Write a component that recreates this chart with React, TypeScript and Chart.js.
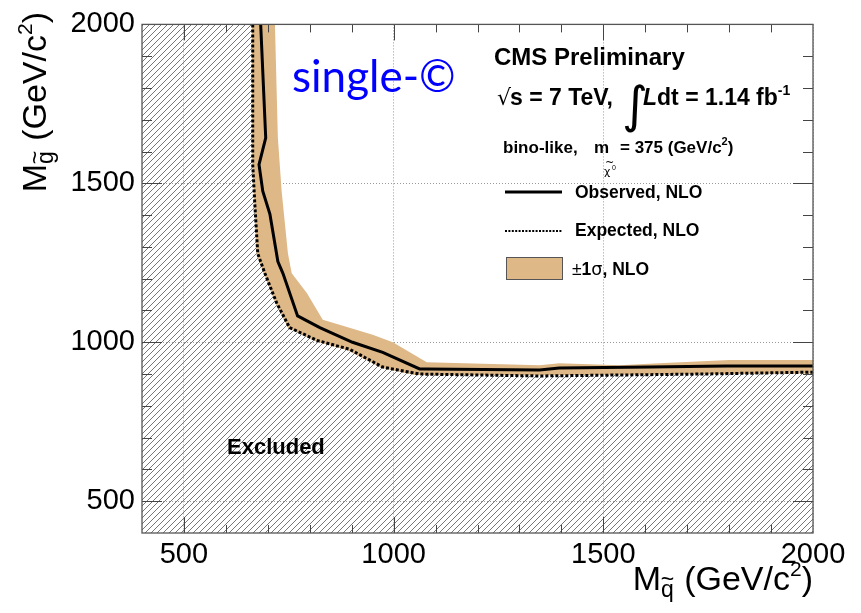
import React, { useEffect, useRef } from "react";
import { Chart, registerables } from "chart.js";

Chart.register(...registerables);

// Axis ranges (GeV/c^2)
const axisMin = 400;
const axisMax = 2000;
const majorTicks = [500, 1000, 1500, 2000];
const minorTicks = [500, 600, 700, 800, 900, 1000, 1100, 1200, 1300, 1400, 1500, 1600, 1700, 1800, 1900];

// Observed 95% CL limit contour: squark mass vs gluino mass
const observedSquark = [683, 695, 679, 688, 705, 724, 736, 771, 824, 902, 974, 1062, 1079, 1348, 1395, 1610, 1793, 2000];
const observedGluino = [2000, 1643, 1559, 1475, 1403, 1254, 1217, 1083, 1046, 1000, 968, 916, 916, 913, 919, 922, 925, 925];

// Expected limit contour
const expectedSquark = [664, 664, 669, 676, 693, 721, 752, 817, 895, 974, 1062, 1348, 1729, 2000];
const expectedGluino = [2000, 1559, 1435, 1279, 1217, 1124, 1046, 1006, 978, 922, 900, 894, 900, 906];

// +-1 sigma band: outer edge and inner edge
const bandUpperSquark = [717, 724, 733, 748, 757, 793, 831, 871, 950, 998, 1079, 1348, 1395, 1538, 1633, 1800, 2000];
const bandUpperGluino = [2000, 1643, 1475, 1279, 1217, 1155, 1071, 1055, 1024, 1000, 937, 928, 934, 928, 934, 944, 944];
const bandLowerSquark = [662, 663, 668, 673, 690, 718, 748, 812, 890, 970, 1050, 1348, 2000];
const bandLowerGluino = [2000, 1559, 1435, 1279, 1217, 1124, 1046, 1004, 975, 920, 897, 896, 902];

const BAND_COLOR = "#DEB887";
const SANS = "'Liberation Sans', Arial, Helvetica, sans-serif";

type Run = {
  text: string;
  size: number;
  bold?: boolean;
  italic?: boolean;
  dy?: number;
  family?: string;
  tilde?: boolean;
  gap?: number;
};

function fontOf(r: Run) {
  return `${r.italic ? "italic " : ""}${r.bold ? "bold " : ""}${r.size}px ${r.family || SANS}`;
}

function measureRuns(ctx: CanvasRenderingContext2D, runs: Run[]) {
  let w = 0;
  for (const r of runs) {
    ctx.font = fontOf(r);
    w += ctx.measureText(r.text).width + (r.gap || 0);
  }
  return w;
}

function drawRuns(ctx: CanvasRenderingContext2D, x: number, y: number, runs: Run[]) {
  let cx = x;
  for (const r of runs) {
    ctx.font = fontOf(r);
    const w = ctx.measureText(r.text).width;
    const by = y + (r.dy || 0);
    ctx.fillText(r.text, cx, by);
    if (r.tilde) {
      const tw = ctx.measureText("~").width;
      ctx.fillText("~", cx + w / 2 - tw / 2, by - r.size * 0.42);
    }
    cx += w + (r.gap || 0);
  }
  return cx;
}

function makeHatch(): CanvasPattern | string {
  const s = 6;
  const c = document.createElement("canvas");
  c.width = s;
  c.height = s;
  const g = c.getContext("2d");
  if (!g) return "#ccc";
  g.strokeStyle = "#4a4a4a";
  g.lineWidth = 0.75;
  g.beginPath();
  g.moveTo(0, s);
  g.lineTo(s, 0);
  g.moveTo(-1, 1);
  g.lineTo(1, -1);
  g.moveTo(s - 1, s + 1);
  g.lineTo(s + 1, s - 1);
  g.stroke();
  const p = g.createPattern(c, "repeat");
  return p || "#ccc";
}

const zip = (xs: number[], ys: number[]) => xs.map((x, i) => ({ x, y: ys[i] }));

const overlayPlugin = {
  id: "cmsOverlay",
  afterDatasetsDraw(chart: any) {
    const ctx: CanvasRenderingContext2D = chart.ctx;
    const { left, right, top, bottom } = chart.chartArea;
    const xs = chart.scales.x;
    const ys = chart.scales.y;
    ctx.save();

    // tick marks on all four sides, pointing inwards
    ctx.strokeStyle = "#444";
    ctx.lineWidth = 1;
    ctx.beginPath();
    for (const v of minorTicks) {
      const major = majorTicks.includes(v);
      const px = Math.round(xs.getPixelForValue(v)) + 0.5;
      const lx = major ? 16 : 8;
      ctx.moveTo(px, bottom);
      ctx.lineTo(px, bottom - lx);
      ctx.moveTo(px, top);
      ctx.lineTo(px, top + lx);
      const py = Math.round(ys.getPixelForValue(v)) + 0.5;
      const ly = major ? 20 : 10;
      ctx.moveTo(left, py);
      ctx.lineTo(left + ly, py);
      ctx.moveTo(right, py);
      ctx.lineTo(right - ly, py);
    }
    ctx.stroke();

    // frame
    ctx.strokeStyle = "#555";
    ctx.lineWidth = 1.3;
    ctx.strokeRect(left, top, right - left, bottom - top);

    ctx.fillStyle = "#000";
    ctx.textBaseline = "alphabetic";
    ctx.textAlign = "left";

    // header
    drawRuns(ctx, 494, 65, [{ text: "CMS Preliminary", size: 24, bold: true }]);

    // energy and luminosity
    drawRuns(ctx, 497, 105, [
      { text: "\u221A", size: 22, bold: false, family: "'DejaVu Sans', sans-serif", gap: -1 },
      { text: "s = 7 TeV,", size: 23, bold: true },
    ]);
    ctx.save();
    ctx.font = `50px 'DejaVu Sans', sans-serif`;
    ctx.fillText("\u222B", 622, 122);
    ctx.restore();
    const lx = drawRuns(ctx, 643, 105, [
      { text: "L", size: 23, bold: true, italic: true },
      { text: "dt = 1.14 fb", size: 23, bold: true },
    ]);
    drawRuns(ctx, lx, 95, [{ text: "-1", size: 14, bold: true }]);

    // model line
    drawRuns(ctx, 503, 153, [{ text: "bino-like,", size: 17, bold: true }]);
    drawRuns(ctx, 594, 153, [{ text: "m", size: 17, bold: true }]);
    ctx.save();
    ctx.font = `11px 'DejaVu Sans', sans-serif`;
    ctx.fillText("\u03C7", 604, 175);
    ctx.fillText("~", 605, 166);
    ctx.font = `7px ${SANS}`;
    ctx.fillText("0", 612, 170);
    ctx.restore();
    const mx = drawRuns(ctx, 620, 153, [{ text: "= 375 (GeV/c", size: 17, bold: true }]);
    const mx2 = drawRuns(ctx, mx, 145, [{ text: "2", size: 11, bold: true }]);
    drawRuns(ctx, mx2, 153, [{ text: ")", size: 17, bold: true }]);

    // legend
    const dsObs = chart.data.datasets[0];
    const dsExp = chart.data.datasets[1];
    ctx.strokeStyle = dsObs.borderColor;
    ctx.lineWidth = 3;
    ctx.setLineDash([]);
    ctx.beginPath();
    ctx.moveTo(505, 192);
    ctx.lineTo(562, 192);
    ctx.stroke();
    ctx.strokeStyle = dsExp.borderColor;
    ctx.lineWidth = 2.2;
    ctx.setLineDash([2, 1.4]);
    ctx.beginPath();
    ctx.moveTo(505, 231);
    ctx.lineTo(562, 231);
    ctx.stroke();
    ctx.setLineDash([]);
    ctx.fillStyle = BAND_COLOR;
    ctx.fillRect(506, 257, 57, 23);
    ctx.strokeStyle = "#555";
    ctx.lineWidth = 1;
    ctx.strokeRect(506.5, 257.5, 56, 22);
    ctx.fillStyle = "#000";
    drawRuns(ctx, 575, 198, [{ text: "Observed, NLO", size: 17.5, bold: true }]);
    drawRuns(ctx, 575, 236, [{ text: "Expected, NLO", size: 17.5, bold: true }]);
    drawRuns(ctx, 572, 275, [
      { text: "\u00B1", size: 17.5 },
      { text: "1", size: 17.5, bold: true },
      { text: "\u03C3", size: 17.5, family: "'DejaVu Sans', sans-serif" },
      { text: ", NLO", size: 17.5, bold: true },
    ]);

    // region label
    drawRuns(ctx, 227, 454, [{ text: "Excluded", size: 22, bold: true }]);

    // channel label
    ctx.fillStyle = "#0000FF";
    drawRuns(ctx, 292, 92, [{ text: "single-\u00A9", size: 44, family: "Lato, 'Open Sans', sans-serif" }]);
    ctx.fillStyle = "#000";

    // axis titles
    const title: Run[] = [
      { text: "M", size: 34 },
      { text: "q", size: 23, dy: 7, tilde: true, gap: 1 },
      { text: " (GeV/c", size: 34 },
      { text: "2", size: 21, dy: -14 },
      { text: ")", size: 34 },
    ];
    const tw = measureRuns(ctx, title);
    drawRuns(ctx, right - tw, 590, title);

    const ytitle: Run[] = [
      { text: "M", size: 34 },
      { text: "g", size: 23, dy: 7, tilde: true, gap: 1 },
      { text: " (GeV/c", size: 34 },
      { text: "2", size: 21, dy: -14 },
      { text: ")", size: 34 },
    ];
    const yw = measureRuns(ctx, ytitle);
    ctx.save();
    ctx.translate(46, 12 + yw);
    ctx.rotate(-Math.PI / 2);
    drawRuns(ctx, 0, 0, ytitle);
    ctx.restore();

    ctx.restore();
  },
};

export default function App() {
  const ref = useRef<HTMLCanvasElement | null>(null);

  useEffect(() => {
    if (!ref.current) return;
    const hatch = makeHatch();

    const observed = zip(observedSquark, observedGluino);
    const expected = zip(expectedSquark, expectedGluino);
    const band = [
      ...zip(bandUpperSquark, bandUpperGluino),
      ...zip(bandLowerSquark, bandLowerGluino).reverse(),
    ];
    const excluded = [
      ...expected,
      { x: axisMax, y: axisMin },
      { x: axisMin, y: axisMin },
      { x: axisMin, y: axisMax },
    ];

    const tickFont = { family: SANS, size: 29 };

    const chart = new Chart(ref.current, {
      type: "line",
      data: {
        datasets: [
          {
            label: "Observed, NLO",
            data: observed,
            borderColor: "#000",
            borderWidth: 3,
            pointRadius: 0,
            fill: false,
            tension: 0,
          },
          {
            label: "Expected, NLO",
            data: expected,
            borderColor: "#000",
            borderWidth: 3,
            borderDash: [3, 2],
            pointRadius: 0,
            fill: false,
            tension: 0,
          },
          {
            label: "\u00B11\u03C3, NLO",
            data: band,
            borderWidth: 0,
            borderColor: "rgba(0,0,0,0)",
            backgroundColor: BAND_COLOR,
            pointRadius: 0,
            fill: "shape",
            tension: 0,
          },
          {
            label: "Excluded",
            data: excluded,
            borderWidth: 0,
            borderColor: "rgba(0,0,0,0)",
            backgroundColor: hatch as any,
            pointRadius: 0,
            fill: "shape",
            tension: 0,
          },
        ],
      },
      options: {
        animation: false,
        responsive: false,
        maintainAspectRatio: false,
        events: [],
        layout: { padding: { left: 0, top: 18, right: 48, bottom: 0 } },
        plugins: {
          legend: { display: false },
          tooltip: { enabled: false },
          title: { display: false },
        },
        scales: {
          x: {
            type: "linear",
            min: axisMin,
            max: axisMax,
            afterBuildTicks: (s: any) => {
              s.ticks = majorTicks.map((v) => ({ value: v }));
            },
            afterFit: (s: any) => {
              s.height = 80;
            },
            grid: { color: "#999", lineWidth: 1, drawTicks: false },
            border: { display: false, dash: [1, 2] },
            ticks: {
              font: tickFont,
              color: "#000",
              padding: 5,
              maxRotation: 0,
              autoSkip: false,
              callback: (v: any) => String(v),
            },
          },
          y: {
            type: "linear",
            min: axisMin,
            max: axisMax,
            afterBuildTicks: (s: any) => {
              s.ticks = majorTicks.map((v) => ({ value: v }));
            },
            afterFit: (s: any) => {
              s.width = 142;
            },
            grid: { color: "#999", lineWidth: 1, drawTicks: false },
            border: { display: false, dash: [1, 2] },
            ticks: {
              font: tickFont,
              color: "#000",
              padding: 7,
              autoSkip: false,
              callback: (v: any) => String(v),
            },
          },
        },
      },
      plugins: [overlayPlugin],
    });

    return () => chart.destroy();
  }, []);

  return (
    <div style={{ position: "absolute", left: 0, top: 0, width: 861, height: 613, background: "#fff" }}>
      <canvas ref={ref} width={861} height={613} style={{ display: "block" }} />
    </div>
  );
}
